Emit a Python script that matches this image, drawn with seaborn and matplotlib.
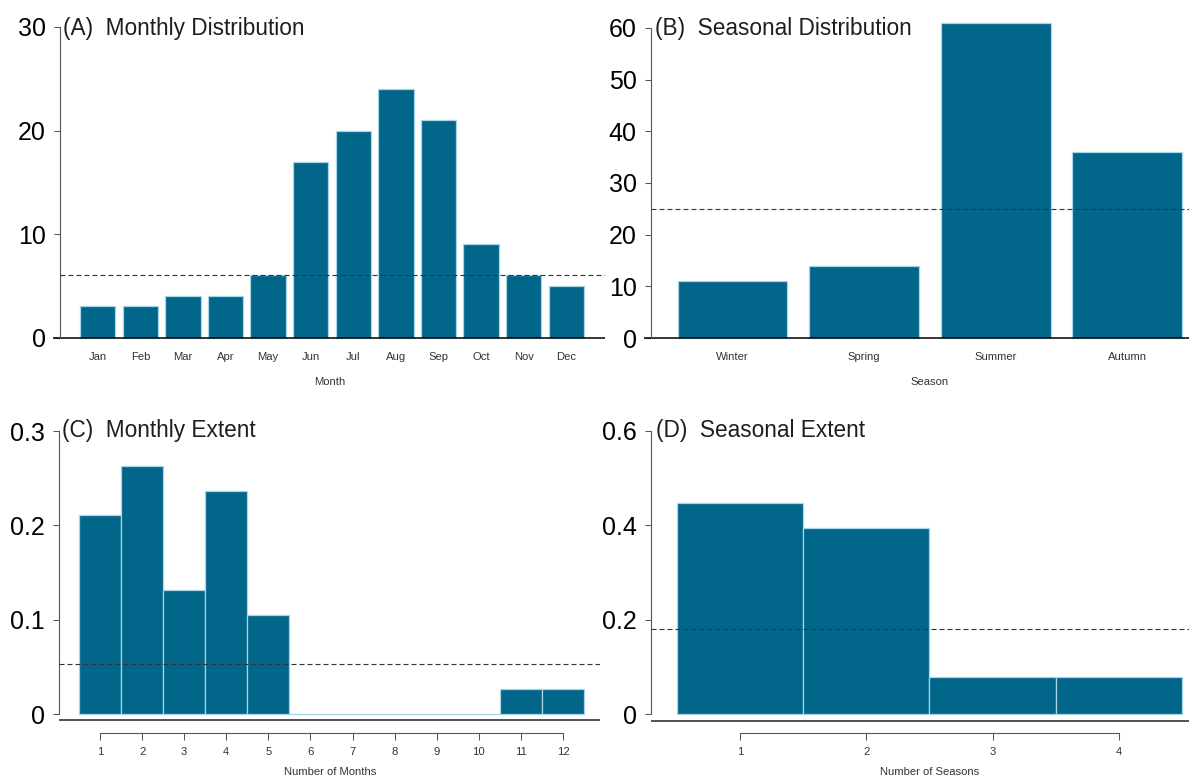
import matplotlib
matplotlib.use("Agg")
import matplotlib.pyplot as plt
import seaborn as sns

# ---- data -------------------------------------------------------------
months = ["Jan", "Feb", "Mar", "Apr", "May", "Jun",
          "Jul", "Aug", "Sep", "Oct", "Nov", "Dec"]
month_counts = [3, 3, 4, 4, 6, 17, 20, 24, 21, 9, 6, 5]
month_ref = 6

seasons = ["Winter", "Spring", "Summer", "Autumn"]
season_counts = [11, 14, 61, 36]
season_ref = 25

n_months = [1, 2, 3, 4, 5, 6, 7, 8, 9, 10, 11, 12]
month_extent = [0.211, 0.263, 0.132, 0.237, 0.105, 0, 0, 0, 0, 0, 0.026, 0.026]
month_extent_ref = 0.053

n_seasons = [1, 2, 3, 4]
season_extent = [0.447, 0.395, 0.079, 0.079]
season_extent_ref = 0.18

# ---- style --------------------------------------------------------------
sns.set_style("white")
plt.rcParams["font.family"] = ["Liberation Sans", "DejaVu Sans"]
SMALL_FONT = ["Liberation Sans Narrow", "Liberation Sans", "DejaVu Sans"]
SMALL_SIZE = 8.1

FILL = "#02668a"
EDGE = "#a9d4e3"
AXIS_GREY = "#555555"
TEXT_GREY = "#333333"
DASH = (0, (4.5, 2.7))

W, H = 1189, 780
fig = plt.figure(figsize=(W / 100, H / 100), dpi=100)
fig.patch.set_facecolor("white")


def make_axes(l, r, t, b):
    return fig.add_axes([l / W, 1 - b / H, (r - l) / W, (b - t) / H])


def set_limits(ax, l, r, t, b, x0, sx, y0, sy):
    # pixel position = x0 + sx * x  and  y0 - sy * y
    ax.set_xlim((l - x0) / sx, (r - x0) / sx)
    ax.set_ylim((y0 - b) / sy, (y0 - t) / sy)


def style_y(ax, spine_x, ticks, labels):
    for s in ("top", "right", "bottom"):
        ax.spines[s].set_visible(False)
    ax.spines["left"].set_position(("data", spine_x))
    ax.spines["left"].set_bounds(ticks[0], ticks[-1])
    ax.spines["left"].set_color(AXIS_GREY)
    ax.spines["left"].set_linewidth(0.8)
    ax.set_yticks(ticks)
    ax.set_yticklabels(labels)
    ax.tick_params(axis="y", left=True, direction="out", length=4.3,
                   width=0.75, color=AXIS_GREY, labelsize=18,
                   labelcolor="black", pad=6)
    ax.set_ylabel("")
    ax.grid(False)


def count_axis(ax, ticks, spine_y, lo, hi):
    ax.spines["bottom"].set_visible(True)
    ax.spines["bottom"].set_position(("data", spine_y))
    ax.spines["bottom"].set_bounds(lo, hi)
    ax.spines["bottom"].set_color(AXIS_GREY)
    ax.spines["bottom"].set_linewidth(0.8)
    ax.set_xticks(ticks)
    ax.set_xticklabels([str(v) for v in ticks])
    ax.tick_params(axis="x", bottom=True, direction="out", length=5,
                   width=0.75, color=AXIS_GREY, pad=5)


def small_xlabels(ax):
    for t in ax.get_xticklabels():
        t.set_family(SMALL_FONT)
        t.set_fontsize(SMALL_SIZE)
        t.set_color(TEXT_GREY)


def title(x_px, y_px, txt):
    fig.text(x_px / W, 1 - y_px / H, txt, ha="left", va="baseline",
             fontsize=16.3, color="#1e1e1e")


# ---- (A) Monthly distribution ------------------------------------------
L, R, T, B = 53, 605, 15, 345
x0, sx, y0, sy = 97.75, 42.6, 337.5, 10.35
axA = make_axes(L, R, T, B)
sns.barplot(x=months, y=month_counts, ax=axA, color=FILL, saturation=1,
            width=0.833, edgecolor=EDGE, linewidth=0.9)
set_limits(axA, L, R, T, B, x0, sx, y0, sy)
spA = (60 - x0) / sx
style_y(axA, spA, [0, 10, 20, 30], ["0", "10", "20", "30"])
axA.axhline(0, color="black", lw=1.1, zorder=1)
axA.hlines(month_ref, spA, axA.get_xlim()[1], colors=TEXT_GREY,
           linestyles=DASH, lw=0.8, zorder=5)
axA.tick_params(axis="x", length=0, pad=5)
small_xlabels(axA)
axA.set_xlabel("Month", fontsize=SMALL_SIZE, color=TEXT_GREY,
               family=SMALL_FONT)
axA.xaxis.set_label_coords((330 - L) / (R - L), -(377 - B) / (B - T))
title(63, 35, "(A)  Monthly Distribution")

# ---- (B) Seasonal distribution -----------------------------------------
L, R, T, B = 644, 1189, 15, 345
x0, sx, y0, sy = 732.5, 131.6, 338, 5.167
axB = make_axes(L, R, T, B)
sns.barplot(x=seasons, y=season_counts, ax=axB, color=FILL, saturation=1,
            width=0.833, edgecolor=EDGE, linewidth=0.9)
set_limits(axB, L, R, T, B, x0, sx, y0, sy)
spB = (651 - x0) / sx
style_y(axB, spB, [0, 10, 20, 30, 40, 50, 60],
        ["0", "10", "20", "30", "40", "50", "60"])
axB.axhline(0, color="black", lw=1.1, zorder=1)
axB.hlines(season_ref, spB, axB.get_xlim()[1], colors=TEXT_GREY,
           linestyles=DASH, lw=0.8, zorder=5)
axB.tick_params(axis="x", length=0, pad=5)
small_xlabels(axB)
axB.set_xlabel("Season", fontsize=SMALL_SIZE, color=TEXT_GREY,
               family=SMALL_FONT)
axB.xaxis.set_label_coords((930 - L) / (R - L), -(377 - B) / (B - T))
title(655, 35, "(B)  Seasonal Distribution")

# ---- (C) Monthly extent ------------------------------------------------
L, R, T, B = 55, 600, 418, 745
x0, sx, y0, sy = 100 - 42.1, 42.1, 714, 943
axC = make_axes(L, R, T, B)
sns.histplot(x=n_months, weights=month_extent, discrete=True, ax=axC,
             color=FILL, alpha=1, edgecolor=EDGE, linewidth=0.9)
set_limits(axC, L, R, T, B, x0, sx, y0, sy)
spC = (59 - x0) / sx
style_y(axC, spC, [0, 0.1, 0.2, 0.3], ["0", "0.1", "0.2", "0.3"])
count_axis(axC, n_months, (y0 - 733) / sy, 1, 12)
small_xlabels(axC)
axC.hlines((y0 - 720) / sy, spC, axC.get_xlim()[1], colors="#222222",
           lw=1.1, zorder=1)
axC.hlines(month_extent_ref, spC, axC.get_xlim()[1], colors=TEXT_GREY,
           linestyles=DASH, lw=0.8, zorder=5)
axC.set_xlabel("Number of Months", fontsize=SMALL_SIZE, color=TEXT_GREY,
               family=SMALL_FONT)
axC.xaxis.set_label_coords((330 - L) / (R - L), -(767 - B) / (B - T))
title(62, 437, "(C)  Monthly Extent")

# ---- (D) Seasonal extent -----------------------------------------------
L, R, T, B = 644, 1189, 418, 745
x0, sx, y0, sy = 740 - 126.3, 126.3, 714, 471.7
axD = make_axes(L, R, T, B)
sns.histplot(x=n_seasons, weights=season_extent, discrete=True, ax=axD,
             color=FILL, alpha=1, edgecolor=EDGE, linewidth=0.9)
set_limits(axD, L, R, T, B, x0, sx, y0, sy)
spD = (651 - x0) / sx
style_y(axD, spD, [0, 0.2, 0.4, 0.6], ["0", "0.2", "0.4", "0.6"])
count_axis(axD, n_seasons, (y0 - 733) / sy, 1, 4)
small_xlabels(axD)
axD.hlines((y0 - 721) / sy, spD, axD.get_xlim()[1], colors="#222222",
           lw=1.1, zorder=1)
axD.hlines(season_extent_ref, spD, axD.get_xlim()[1], colors=TEXT_GREY,
           linestyles=DASH, lw=0.8, zorder=5)
axD.set_xlabel("Number of Seasons", fontsize=SMALL_SIZE, color=TEXT_GREY,
               family=SMALL_FONT)
axD.xaxis.set_label_coords((930 - L) / (R - L), -(767 - B) / (B - T))
title(656, 437, "(D)  Seasonal Extent")

fig.savefig("out.png", dpi=100, facecolor="white")
